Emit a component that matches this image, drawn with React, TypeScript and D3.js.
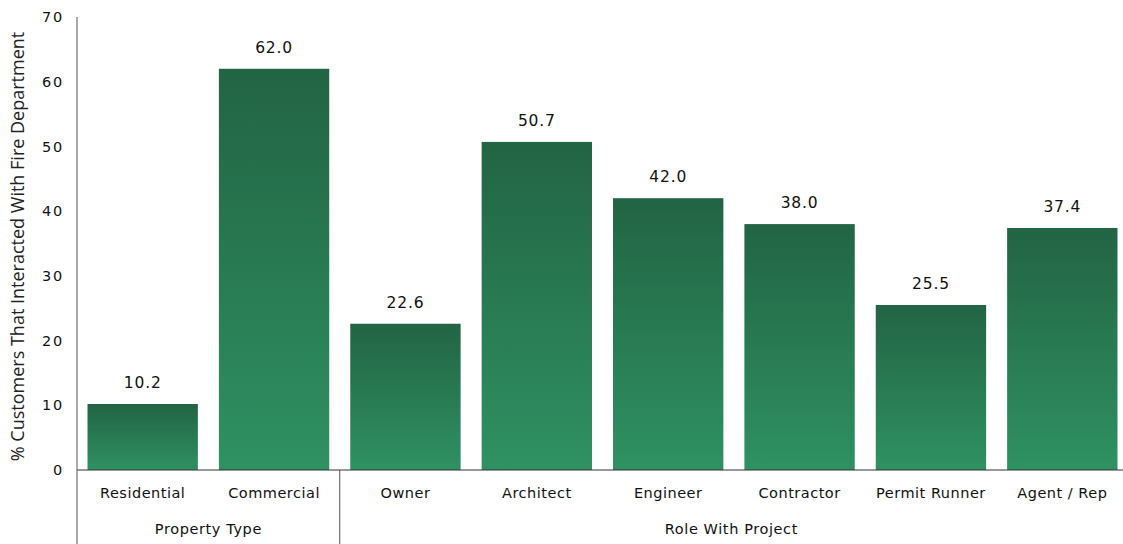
import React from "react";
import * as d3 from "d3";

const categories = ["Residential", "Commercial", "Owner", "Architect", "Engineer", "Contractor", "Permit Runner", "Agent / Rep"];
const values = [10.2, 62.0, 22.6, 50.7, 42.0, 38.0, 25.5, 37.4];
const groups = ["Property Type", "Role With Project"];
const groupOf = [0, 0, 1, 1, 1, 1, 1, 1];
const yTicks = [0, 10, 20, 30, 40, 50, 60, 70];

const W = 1123, H = 544;
const left = 77, right = 1128, top = 17, bottom = 470;
const font = "'DejaVu Sans', Verdana, sans-serif";

export default function App() {
  const x = d3.scaleBand<string>().domain(categories).range([left, right]).paddingInner(0.16).paddingOuter(0.08);
  const y = d3.scaleLinear().domain([0, 70]).range([bottom, top]);
  const step = x.step();
  const seps: number[] = [];
  for (let i = 1; i < categories.length; i++) {
    if (groupOf[i] !== groupOf[i - 1]) seps.push(left + i * step);
  }
  const groupCenters = groups.map((_, g) => {
    const idx = categories.map((c, i) => i).filter((i) => groupOf[i] === g);
    const a = left + idx[0] * step;
    const b = Math.min(left + (idx[idx.length - 1] + 1) * step, W);
    return (a + b) / 2;
  });
  return (
    <svg width={W} height={H} style={{ position: "absolute", left: 0, top: 0, background: "#fff" }}>
      <defs>
        <linearGradient id="barGrad" x1="0" y1="0" x2="0" y2="1">
          <stop offset="0%" stopColor="#226444" />
          <stop offset="100%" stopColor="#2f9162" />
        </linearGradient>
      </defs>
      {yTicks.map((t) => (
        <text key={t} x={64} y={y(t)} dy="0.35em" textAnchor="end" fontFamily={font} fontSize={14.5} fill="#111" letterSpacing={1.8}>
          {t}
        </text>
      ))}
      <text transform={`translate(24,${(top + bottom) / 2 + 3}) rotate(-90)`} textAnchor="middle" fontFamily="'Open Sans', sans-serif" fontSize={18} fill="#222">
        % Customers That Interacted With Fire Department
      </text>
      {categories.map((c, i) => (
        <g key={c}>
          <rect x={x(c)} y={y(values[i])} width={x.bandwidth()} height={bottom - y(values[i])} fill="url(#barGrad)" />
          <text x={x(c)! + x.bandwidth() / 2} y={y(values[i]) - 16} textAnchor="middle" fontFamily={font} fontSize={15.5} fill="#111" letterSpacing={0.8}>
            {values[i].toFixed(1)}
          </text>
          <text x={x(c)! + x.bandwidth() / 2} y={493} dy="0.35em" textAnchor="middle" fontFamily={font} fontSize={14.5} fill="#111" letterSpacing={0.5}>
            {c}
          </text>
        </g>
      ))}
      {groups.map((g, i) => (
        <text key={g} x={groupCenters[i]} y={529} dy="0.35em" textAnchor="middle" fontFamily={font} fontSize={14.5} fill="#111" letterSpacing={0.6}>
          {g}
        </text>
      ))}
      <line x1={left} x2={W} y1={bottom} y2={bottom} stroke="#333" strokeWidth={1} />
      <line x1={left} x2={left} y1={top} y2={H} stroke="#555" strokeWidth={1} />
      {seps.map((s) => (
        <line key={s} x1={s} x2={s} y1={bottom} y2={H} stroke="#555" strokeWidth={1} />
      ))}
    </svg>
  );
}
